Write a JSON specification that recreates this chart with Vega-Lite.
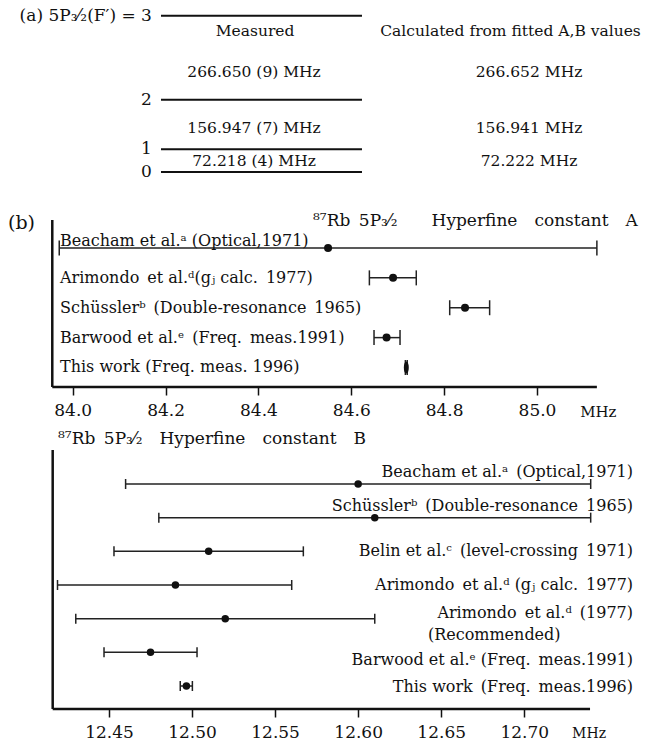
{
  "$schema": "https://vega.github.io/schema/vega-lite/v6.json",
  "padding": 0,
  "spacing": 0,
  "bounds": "flush",
  "config": {
    "view": {"stroke": null},
    "text": {"font": "DejaVu Serif", "color": "#111111"},
    "axis": {"labelFont": "DejaVu Serif"}
  },
  "datasets": {
    "levels": [
      {"F": 0, "E": 0, "label": "0"},
      {"F": 1, "E": 72.218, "label": "1"},
      {"F": 2, "E": 229.165, "label": "2"},
      {"F": 3, "E": 495.815, "label": "(a) 5P₃⁄₂(F′) = 3"}
    ],
    "splits": [
      {"column": "Measured", "u": 0.468, "E": 447.3, "text": "Measured"},
      {"column": "Calculated", "u": 1.739, "E": 447.3, "text": "Calculated from fitted A,B values"},
      {"column": "Measured", "u": 0.463, "E": 315.7, "text": "266.650 (9) MHz"},
      {"column": "Calculated", "u": 1.831, "E": 315.7, "text": "266.652 MHz"},
      {"column": "Measured", "u": 0.463, "E": 141.2, "text": "156.947 (7) MHz"},
      {"column": "Calculated", "u": 1.831, "E": 141.2, "text": "156.941 MHz"},
      {"column": "Measured", "u": 0.463, "E": 34.9, "text": "72.218 (4) MHz"},
      {"column": "Calculated", "u": 1.831, "E": 34.9, "text": "72.222 MHz"}
    ],
    "constA": [
      {"study": "Beacham", "row": 1, "value": 84.55, "lo": 83.971, "hi": 85.129, "label": "Beacham et al.ᵃ (Optical,1971)", "labelRow": 0.75},
      {"study": "Arimondo gJ", "row": 2, "value": 84.69, "lo": 84.639, "hi": 84.74, "label": "Arimondo\u2002et al.ᵈ(gⱼ calc.\u20021977)", "labelRow": 2},
      {"study": "Schüssler", "row": 3, "value": 84.845, "lo": 84.812, "hi": 84.898, "label": "Schüsslerᵇ\u2002(Double-resonance\u20021965)", "labelRow": 3},
      {"study": "Barwood", "row": 4, "value": 84.676, "lo": 84.649, "hi": 84.705, "label": "Barwood et al.ᵉ\u2002(Freq.\u2002meas.1991)", "labelRow": 4},
      {"study": "This work", "row": 5, "value": 84.7185, "lo": 84.7165, "hi": 84.7205, "label": "This work (Freq. meas. 1996)", "labelRow": 5}
    ],
    "constB": [
      {"study": "Beacham", "row": 1, "value": 12.6, "lo": 12.46, "hi": 12.74, "label": "Beacham et al.ᵃ\u2002(Optical,1971)", "labelRow": 0.644},
      {"study": "Schüssler", "row": 2, "value": 12.61, "lo": 12.48, "hi": 12.74, "label": "Schüsslerᵇ\u2002(Double-resonance\u20021965)", "labelRow": 1.654},
      {"study": "Belin", "row": 3, "value": 12.51, "lo": 12.453, "hi": 12.567, "label": "Belin et al.ᶜ\u2002(level-crossing\u20021971)", "labelRow": 3},
      {"study": "Arimondo gJ", "row": 4, "value": 12.49, "lo": 12.419, "hi": 12.56, "label": "Arimondo\u2002et al.ᵈ (gⱼ calc.\u20021977)", "labelRow": 4},
      {"study": "Arimondo rec", "row": 5, "value": 12.52, "lo": 12.43, "hi": 12.61, "label": "Arimondo\u2002et al.ᵈ\u2002(1977)", "labelRow": 4.83},
      {"study": "Barwood", "row": 6, "value": 12.475, "lo": 12.447, "hi": 12.503, "label": "Barwood et al.ᵉ (Freq.\u2002meas.1991)", "labelRow": 6.227},
      {"study": "This work", "row": 7, "value": 12.4966, "lo": 12.4929, "hi": 12.5002, "label": "This work\u2002(Freq.\u2002meas.1996)", "labelRow": 7.03}
    ]
  },
  "vconcat": [
    {
      "width": 648,
      "height": 182,
      "layer": [
        {
          "data": {"name": "levels"},
          "mark": {"type": "rule", "strokeWidth": 2, "color": "#111111"},
          "encoding": {
            "x": {"datum": 0, "type": "quantitative", "scale": {"domain": [-0.801, 2.423], "nice": false, "zero": false}, "axis": null},
            "x2": {"datum": 1},
            "y": {"field": "E", "type": "quantitative", "scale": {"domain": [-31.7, 545.7], "nice": false, "zero": false}, "axis": null}
          }
        },
        {
          "data": {"name": "levels"},
          "mark": {"type": "text", "align": "right", "baseline": "middle", "fontSize": 17},
          "encoding": {
            "x": {"datum": -0.045, "type": "quantitative", "scale": {"domain": [-0.801, 2.423], "nice": false, "zero": false}, "axis": null},
            "y": {"field": "E", "type": "quantitative", "scale": {"domain": [-31.7, 545.7], "nice": false, "zero": false}, "axis": null},
            "text": {"field": "label"}
          }
        },
        {
          "data": {"name": "splits"},
          "mark": {"type": "text", "align": "center", "baseline": "middle", "fontSize": 15.5},
          "encoding": {
            "x": {"field": "u", "type": "quantitative", "scale": {"domain": [-0.801, 2.423], "nice": false, "zero": false}, "axis": null},
            "y": {"field": "E", "type": "quantitative", "scale": {"domain": [-31.7, 545.7], "nice": false, "zero": false}, "axis": null},
            "text": {"field": "text"}
          }
        }
      ]
    },
    {
      "width": 648,
      "height": 205,
      "layer": [
        {
          "data": {"values": [
            {"x": 83.956, "x2": 83.956, "r": 0.063, "r2": 5.653},
            {"x": 83.956, "x2": 85.129, "r": 5.653, "r2": 5.653}
          ]},
          "mark": {"type": "rule", "strokeWidth": 2.5, "color": "#111111"},
          "encoding": {
            "x": {"field": "x", "type": "quantitative", "scale": {"domain": [83.8434, 85.2391], "nice": false, "zero": false},
              "axis": {"values": [84, 84.2, 84.4, 84.6, 84.8, 85], "format": ".1f", "domain": false, "grid": false, "ticks": true, "tickSize": 8, "tickWidth": 1.5, "tickColor": "#111111", "labelFontSize": 17, "labelColor": "#111111", "labelPadding": 7, "labelFont": "DejaVu Serif", "title": null, "labelFlush": false, "labelOverlap": false, "labelBound": false}},
            "x2": {"field": "x2"},
            "y": {"field": "r", "type": "quantitative", "scale": {"domain": [-1.209, 5.653], "nice": false, "zero": false, "reverse": true}, "axis": null},
            "y2": {"field": "r2"}
          }
        },
        {
          "data": {"name": "constA"},
          "mark": {"type": "rule", "strokeWidth": 1.5, "color": "#222222"},
          "encoding": {
            "x": {"field": "lo", "type": "quantitative", "scale": {"domain": [83.8434, 85.2391], "nice": false, "zero": false},
              "axis": {"values": [84, 84.2, 84.4, 84.6, 84.8, 85], "format": ".1f", "domain": false, "grid": false, "ticks": true, "tickSize": 8, "tickWidth": 1.5, "tickColor": "#111111", "labelFontSize": 17, "labelColor": "#111111", "labelPadding": 7, "labelFont": "DejaVu Serif", "title": null, "labelFlush": false, "labelOverlap": false, "labelBound": false}},
            "x2": {"field": "hi"},
            "y": {"field": "row", "type": "quantitative", "scale": {"domain": [-1.209, 5.653], "nice": false, "zero": false, "reverse": true}, "axis": null}
          }
        },
        {
          "data": {"name": "constA"},
          "mark": {"type": "tick", "orient": "vertical", "size": 15, "thickness": 1.5, "color": "#222222", "opacity": 1},
          "encoding": {
            "x": {"field": "lo", "type": "quantitative", "scale": {"domain": [83.8434, 85.2391], "nice": false, "zero": false},
              "axis": {"values": [84, 84.2, 84.4, 84.6, 84.8, 85], "format": ".1f", "domain": false, "grid": false, "ticks": true, "tickSize": 8, "tickWidth": 1.5, "tickColor": "#111111", "labelFontSize": 17, "labelColor": "#111111", "labelPadding": 7, "labelFont": "DejaVu Serif", "title": null, "labelFlush": false, "labelOverlap": false, "labelBound": false}},
            "y": {"field": "row", "type": "quantitative", "scale": {"domain": [-1.209, 5.653], "nice": false, "zero": false, "reverse": true}, "axis": null}
          }
        },
        {
          "data": {"name": "constA"},
          "mark": {"type": "tick", "orient": "vertical", "size": 15, "thickness": 1.5, "color": "#222222", "opacity": 1},
          "encoding": {
            "x": {"field": "hi", "type": "quantitative", "scale": {"domain": [83.8434, 85.2391], "nice": false, "zero": false},
              "axis": {"values": [84, 84.2, 84.4, 84.6, 84.8, 85], "format": ".1f", "domain": false, "grid": false, "ticks": true, "tickSize": 8, "tickWidth": 1.5, "tickColor": "#111111", "labelFontSize": 17, "labelColor": "#111111", "labelPadding": 7, "labelFont": "DejaVu Serif", "title": null, "labelFlush": false, "labelOverlap": false, "labelBound": false}},
            "y": {"field": "row", "type": "quantitative", "scale": {"domain": [-1.209, 5.653], "nice": false, "zero": false, "reverse": true}, "axis": null}
          }
        },
        {
          "data": {"name": "constA"},
          "transform": [{"filter": "datum.study != 'This work'"}],
          "mark": {"type": "point", "filled": true, "shape": "circle", "size": 64, "color": "#111111", "opacity": 1},
          "encoding": {
            "x": {"field": "value", "type": "quantitative", "scale": {"domain": [83.8434, 85.2391], "nice": false, "zero": false},
              "axis": {"values": [84, 84.2, 84.4, 84.6, 84.8, 85], "format": ".1f", "domain": false, "grid": false, "ticks": true, "tickSize": 8, "tickWidth": 1.5, "tickColor": "#111111", "labelFontSize": 17, "labelColor": "#111111", "labelPadding": 7, "labelFont": "DejaVu Serif", "title": null, "labelFlush": false, "labelOverlap": false, "labelBound": false}},
            "y": {"field": "row", "type": "quantitative", "scale": {"domain": [-1.209, 5.653], "nice": false, "zero": false, "reverse": true}, "axis": null}
          }
        },
        {
          "data": {"name": "constA"},
          "transform": [{"filter": "datum.study == 'This work'"}],
          "mark": {"type": "point", "filled": true, "shape": "M0,-1C0.55,-1,0.55,1,0,1C-0.55,1,-0.55,-1,0,-1Z", "size": 144, "color": "#111111", "opacity": 1},
          "encoding": {
            "x": {"field": "value", "type": "quantitative", "scale": {"domain": [83.8434, 85.2391], "nice": false, "zero": false},
              "axis": {"values": [84, 84.2, 84.4, 84.6, 84.8, 85], "format": ".1f", "domain": false, "grid": false, "ticks": true, "tickSize": 8, "tickWidth": 1.5, "tickColor": "#111111", "labelFontSize": 17, "labelColor": "#111111", "labelPadding": 7, "labelFont": "DejaVu Serif", "title": null, "labelFlush": false, "labelOverlap": false, "labelBound": false}},
            "y": {"field": "row", "type": "quantitative", "scale": {"domain": [-1.209, 5.653], "nice": false, "zero": false, "reverse": true}, "axis": null}
          }
        },
        {
          "data": {"name": "constA"},
          "mark": {"type": "text", "align": "left", "baseline": "middle", "fontSize": 16},
          "encoding": {
            "x": {"datum": 83.9726, "type": "quantitative", "scale": {"domain": [83.8434, 85.2391], "nice": false, "zero": false},
              "axis": {"values": [84, 84.2, 84.4, 84.6, 84.8, 85], "format": ".1f", "domain": false, "grid": false, "ticks": true, "tickSize": 8, "tickWidth": 1.5, "tickColor": "#111111", "labelFontSize": 17, "labelColor": "#111111", "labelPadding": 7, "labelFont": "DejaVu Serif", "title": null, "labelFlush": false, "labelOverlap": false, "labelBound": false}},
            "y": {"field": "labelRow", "type": "quantitative", "scale": {"domain": [-1.209, 5.653], "nice": false, "zero": false, "reverse": true}, "axis": null},
            "text": {"field": "label"}
          }
        },
        {
          "data": {"values": [{"text": "⁸⁷Rb\u20025P₃⁄₂\u2003\u2003Hyperfine\u2003constant\u2003A", "x": 84.5176, "r": 0.096}]},
          "mark": {"type": "text", "align": "left", "baseline": "middle", "fontSize": 17},
          "encoding": {
            "x": {"field": "x", "type": "quantitative", "scale": {"domain": [83.8434, 85.2391], "nice": false, "zero": false},
              "axis": {"values": [84, 84.2, 84.4, 84.6, 84.8, 85], "format": ".1f", "domain": false, "grid": false, "ticks": true, "tickSize": 8, "tickWidth": 1.5, "tickColor": "#111111", "labelFontSize": 17, "labelColor": "#111111", "labelPadding": 7, "labelFont": "DejaVu Serif", "title": null, "labelFlush": false, "labelOverlap": false, "labelBound": false}},
            "y": {"field": "r", "type": "quantitative", "scale": {"domain": [-1.209, 5.653], "nice": false, "zero": false, "reverse": true}, "axis": null},
            "text": {"field": "text"}
          }
        },
        {
          "data": {"values": [{"text": "(b)", "x": 83.8607, "r": 0.18}]},
          "mark": {"type": "text", "align": "left", "baseline": "middle", "fontSize": 19},
          "encoding": {
            "x": {"field": "x", "type": "quantitative", "scale": {"domain": [83.8434, 85.2391], "nice": false, "zero": false},
              "axis": {"values": [84, 84.2, 84.4, 84.6, 84.8, 85], "format": ".1f", "domain": false, "grid": false, "ticks": true, "tickSize": 8, "tickWidth": 1.5, "tickColor": "#111111", "labelFontSize": 17, "labelColor": "#111111", "labelPadding": 7, "labelFont": "DejaVu Serif", "title": null, "labelFlush": false, "labelOverlap": false, "labelBound": false}},
            "y": {"field": "r", "type": "quantitative", "scale": {"domain": [-1.209, 5.653], "nice": false, "zero": false, "reverse": true}, "axis": null},
            "text": {"field": "text"}
          }
        },
        {
          "data": {"values": [{"text": "MHz", "x": 85.093, "r": 6.49}]},
          "mark": {"type": "text", "align": "left", "baseline": "middle", "fontSize": 15},
          "encoding": {
            "x": {"field": "x", "type": "quantitative", "scale": {"domain": [83.8434, 85.2391], "nice": false, "zero": false},
              "axis": {"values": [84, 84.2, 84.4, 84.6, 84.8, 85], "format": ".1f", "domain": false, "grid": false, "ticks": true, "tickSize": 8, "tickWidth": 1.5, "tickColor": "#111111", "labelFontSize": 17, "labelColor": "#111111", "labelPadding": 7, "labelFont": "DejaVu Serif", "title": null, "labelFlush": false, "labelOverlap": false, "labelBound": false}},
            "y": {"field": "r", "type": "quantitative", "scale": {"domain": [-1.209, 5.653], "nice": false, "zero": false, "reverse": true}, "axis": null},
            "text": {"field": "text"}
          }
        }
      ]
    },
    {
      "width": 648,
      "height": 322,
      "layer": [
        {
          "data": {"values": [
            {"x": 12.4161, "x2": 12.4161, "r": -0.01, "r2": 7.683},
            {"x": 12.4161, "x2": 12.7396, "r": 7.683, "r2": 7.683}
          ]},
          "mark": {"type": "rule", "strokeWidth": 2.5, "color": "#111111"},
          "encoding": {
            "x": {"field": "x", "type": "quantitative", "scale": {"domain": [12.38438, 12.7745], "nice": false, "zero": false},
              "axis": {"values": [12.45, 12.5, 12.55, 12.6, 12.65, 12.7], "format": ".2f", "domain": false, "grid": false, "ticks": true, "tickSize": 8, "tickWidth": 1.5, "tickColor": "#111111", "labelFontSize": 17, "labelColor": "#111111", "labelPadding": 7, "labelFont": "DejaVu Serif", "title": null, "labelFlush": false, "labelOverlap": false, "labelBound": false}},
            "x2": {"field": "x2"},
            "y": {"field": "r", "type": "quantitative", "scale": {"domain": [-1.881, 7.683], "nice": false, "zero": false, "reverse": true}, "axis": null},
            "y2": {"field": "r2"}
          }
        },
        {
          "data": {"name": "constB"},
          "mark": {"type": "rule", "strokeWidth": 1.5, "color": "#222222"},
          "encoding": {
            "x": {"field": "lo", "type": "quantitative", "scale": {"domain": [12.38438, 12.7745], "nice": false, "zero": false},
              "axis": {"values": [12.45, 12.5, 12.55, 12.6, 12.65, 12.7], "format": ".2f", "domain": false, "grid": false, "ticks": true, "tickSize": 8, "tickWidth": 1.5, "tickColor": "#111111", "labelFontSize": 17, "labelColor": "#111111", "labelPadding": 7, "labelFont": "DejaVu Serif", "title": null, "labelFlush": false, "labelOverlap": false, "labelBound": false}},
            "x2": {"field": "hi"},
            "y": {"field": "row", "type": "quantitative", "scale": {"domain": [-1.881, 7.683], "nice": false, "zero": false, "reverse": true}, "axis": null}
          }
        },
        {
          "data": {"name": "constB"},
          "mark": {"type": "tick", "orient": "vertical", "size": 10, "thickness": 1.5, "color": "#222222", "opacity": 1},
          "encoding": {
            "x": {"field": "lo", "type": "quantitative", "scale": {"domain": [12.38438, 12.7745], "nice": false, "zero": false},
              "axis": {"values": [12.45, 12.5, 12.55, 12.6, 12.65, 12.7], "format": ".2f", "domain": false, "grid": false, "ticks": true, "tickSize": 8, "tickWidth": 1.5, "tickColor": "#111111", "labelFontSize": 17, "labelColor": "#111111", "labelPadding": 7, "labelFont": "DejaVu Serif", "title": null, "labelFlush": false, "labelOverlap": false, "labelBound": false}},
            "y": {"field": "row", "type": "quantitative", "scale": {"domain": [-1.881, 7.683], "nice": false, "zero": false, "reverse": true}, "axis": null}
          }
        },
        {
          "data": {"name": "constB"},
          "mark": {"type": "tick", "orient": "vertical", "size": 10, "thickness": 1.5, "color": "#222222", "opacity": 1},
          "encoding": {
            "x": {"field": "hi", "type": "quantitative", "scale": {"domain": [12.38438, 12.7745], "nice": false, "zero": false},
              "axis": {"values": [12.45, 12.5, 12.55, 12.6, 12.65, 12.7], "format": ".2f", "domain": false, "grid": false, "ticks": true, "tickSize": 8, "tickWidth": 1.5, "tickColor": "#111111", "labelFontSize": 17, "labelColor": "#111111", "labelPadding": 7, "labelFont": "DejaVu Serif", "title": null, "labelFlush": false, "labelOverlap": false, "labelBound": false}},
            "y": {"field": "row", "type": "quantitative", "scale": {"domain": [-1.881, 7.683], "nice": false, "zero": false, "reverse": true}, "axis": null}
          }
        },
        {
          "data": {"name": "constB"},
          "mark": {"type": "point", "filled": true, "shape": "circle", "size": 56, "color": "#111111", "opacity": 1},
          "encoding": {
            "x": {"field": "value", "type": "quantitative", "scale": {"domain": [12.38438, 12.7745], "nice": false, "zero": false},
              "axis": {"values": [12.45, 12.5, 12.55, 12.6, 12.65, 12.7], "format": ".2f", "domain": false, "grid": false, "ticks": true, "tickSize": 8, "tickWidth": 1.5, "tickColor": "#111111", "labelFontSize": 17, "labelColor": "#111111", "labelPadding": 7, "labelFont": "DejaVu Serif", "title": null, "labelFlush": false, "labelOverlap": false, "labelBound": false}},
            "y": {"field": "row", "type": "quantitative", "scale": {"domain": [-1.881, 7.683], "nice": false, "zero": false, "reverse": true}, "axis": null}
          }
        },
        {
          "data": {"name": "constB"},
          "mark": {"type": "text", "align": "right", "baseline": "middle", "fontSize": 16},
          "encoding": {
            "x": {"datum": 12.7655, "type": "quantitative", "scale": {"domain": [12.38438, 12.7745], "nice": false, "zero": false},
              "axis": {"values": [12.45, 12.5, 12.55, 12.6, 12.65, 12.7], "format": ".2f", "domain": false, "grid": false, "ticks": true, "tickSize": 8, "tickWidth": 1.5, "tickColor": "#111111", "labelFontSize": 17, "labelColor": "#111111", "labelPadding": 7, "labelFont": "DejaVu Serif", "title": null, "labelFlush": false, "labelOverlap": false, "labelBound": false}},
            "y": {"field": "labelRow", "type": "quantitative", "scale": {"domain": [-1.881, 7.683], "nice": false, "zero": false, "reverse": true}, "axis": null},
            "text": {"field": "label"}
          }
        },
        {
          "data": {"values": [
            {"text": "(Recommended)", "x": 12.642, "r": 5.485}
          ]},
          "mark": {"type": "text", "align": "left", "baseline": "middle", "fontSize": 16},
          "encoding": {
            "x": {"field": "x", "type": "quantitative", "scale": {"domain": [12.38438, 12.7745], "nice": false, "zero": false},
              "axis": {"values": [12.45, 12.5, 12.55, 12.6, 12.65, 12.7], "format": ".2f", "domain": false, "grid": false, "ticks": true, "tickSize": 8, "tickWidth": 1.5, "tickColor": "#111111", "labelFontSize": 17, "labelColor": "#111111", "labelPadding": 7, "labelFont": "DejaVu Serif", "title": null, "labelFlush": false, "labelOverlap": false, "labelBound": false}},
            "y": {"field": "r", "type": "quantitative", "scale": {"domain": [-1.881, 7.683], "nice": false, "zero": false, "reverse": true}, "axis": null},
            "text": {"field": "text"}
          }
        },
        {
          "data": {"values": [{"text": "⁸⁷Rb\u20025P₃⁄₂\u2003Hyperfine\u2003constant\u2003B", "x": 12.4193, "r": -0.336}]},
          "mark": {"type": "text", "align": "left", "baseline": "middle", "fontSize": 17},
          "encoding": {
            "x": {"field": "x", "type": "quantitative", "scale": {"domain": [12.38438, 12.7745], "nice": false, "zero": false},
              "axis": {"values": [12.45, 12.5, 12.55, 12.6, 12.65, 12.7], "format": ".2f", "domain": false, "grid": false, "ticks": true, "tickSize": 8, "tickWidth": 1.5, "tickColor": "#111111", "labelFontSize": 17, "labelColor": "#111111", "labelPadding": 7, "labelFont": "DejaVu Serif", "title": null, "labelFlush": false, "labelOverlap": false, "labelBound": false}},
            "y": {"field": "r", "type": "quantitative", "scale": {"domain": [-1.881, 7.683], "nice": false, "zero": false, "reverse": true}, "axis": null},
            "text": {"field": "text"}
          }
        },
        {
          "data": {"values": [{"text": "MHz", "x": 12.7288, "r": 8.425}]},
          "mark": {"type": "text", "align": "left", "baseline": "middle", "fontSize": 14},
          "encoding": {
            "x": {"field": "x", "type": "quantitative", "scale": {"domain": [12.38438, 12.7745], "nice": false, "zero": false},
              "axis": {"values": [12.45, 12.5, 12.55, 12.6, 12.65, 12.7], "format": ".2f", "domain": false, "grid": false, "ticks": true, "tickSize": 8, "tickWidth": 1.5, "tickColor": "#111111", "labelFontSize": 17, "labelColor": "#111111", "labelPadding": 7, "labelFont": "DejaVu Serif", "title": null, "labelFlush": false, "labelOverlap": false, "labelBound": false}},
            "y": {"field": "r", "type": "quantitative", "scale": {"domain": [-1.881, 7.683], "nice": false, "zero": false, "reverse": true}, "axis": null},
            "text": {"field": "text"}
          }
        }
      ]
    }
  ]
}
